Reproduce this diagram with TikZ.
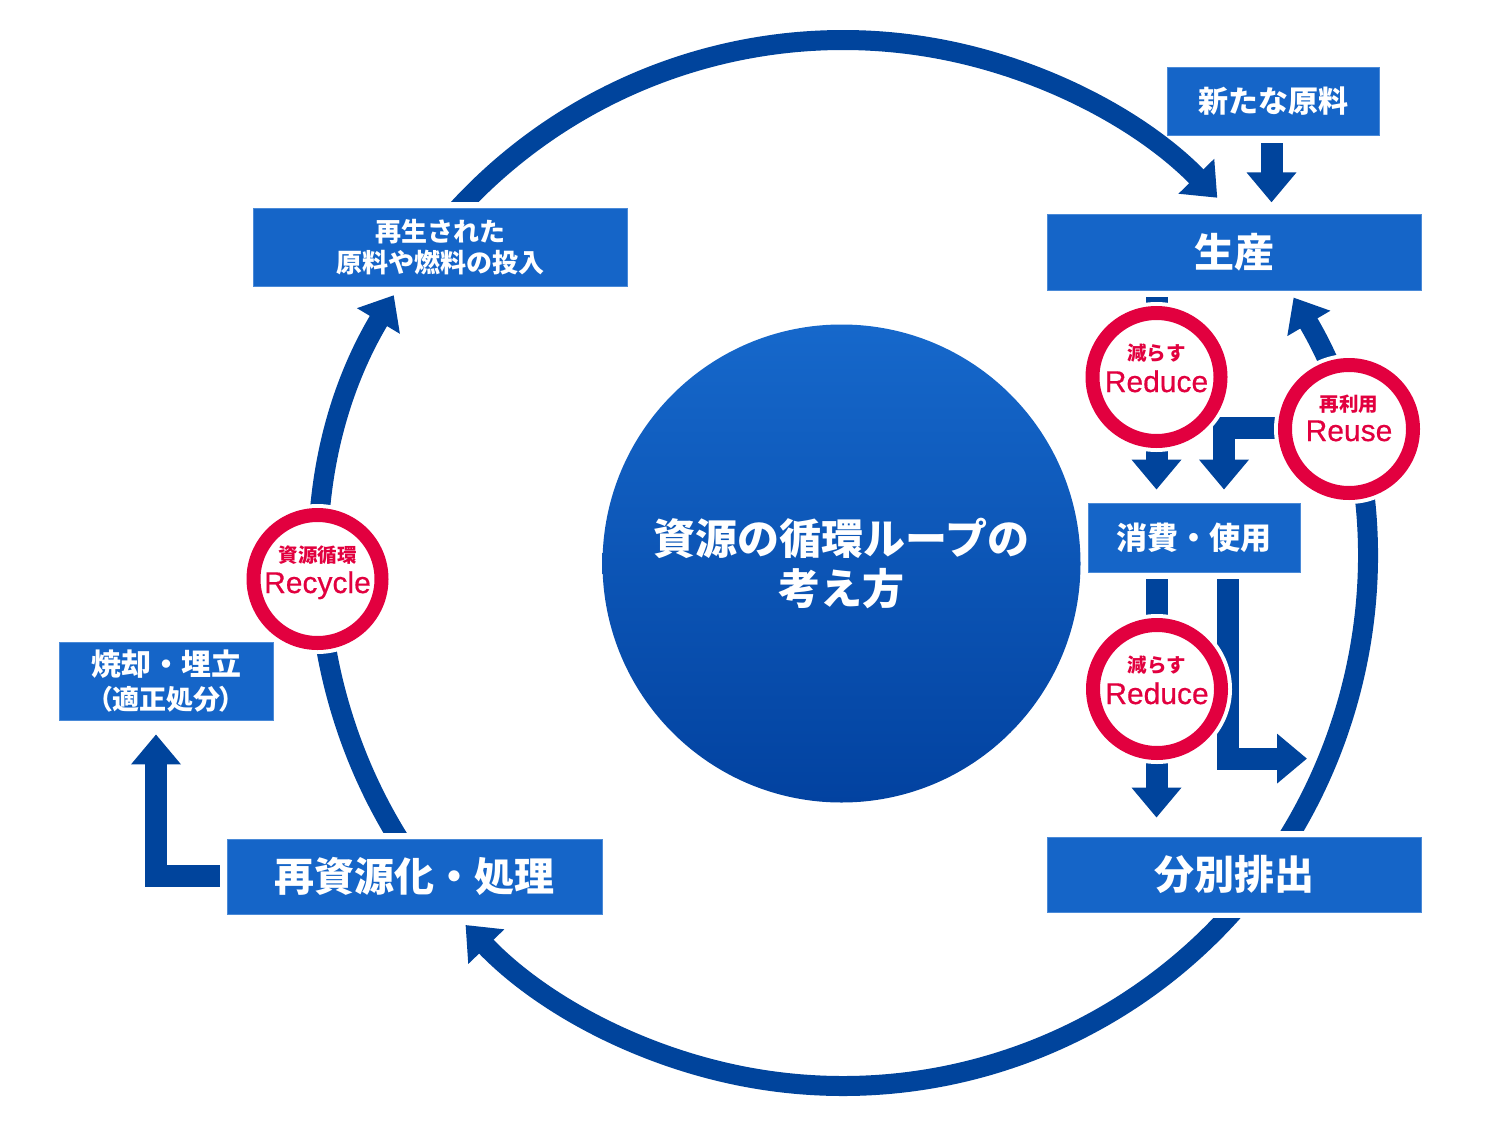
\documentclass[tikz,border=0pt]{standalone}
\usepackage{fontspec}
\setmainfont{Noto Sans CJK JP}
\newfontfamily\lat{Liberation Sans}[FakeBold=0.5]
\usetikzlibrary{arrows.meta,calc}
\definecolor{boxblue}{HTML}{1565C8}
\definecolor{boxedge}{HTML}{4A8AD8}
\definecolor{arrowblue}{HTML}{00449C}
\definecolor{ringred}{HTML}{E2003F}
\definecolor{circtop}{HTML}{1668CB}
\definecolor{circbot}{HTML}{0242A0}
\pgfdeclarelayer{bg}
\pgfdeclarelayer{paper}
\pgfsetlayers{paper,bg,main}
\begin{document}
\begin{tikzpicture}[x=1pt,y=-1pt,
  box/.style={fill=boxblue, draw=boxedge, line width=0.8pt, text=white, inner sep=0pt, align=center},
  loopline/.style={draw=arrowblue, line width=20pt},
  loopar/.style={loopline, -{Triangle[width=48pt,length=30pt]}},
  flow/.style={draw=arrowblue, line width=22pt, line join=miter, -{Triangle[width=48pt,length=30pt]}},
  ring/.style={circle, draw=ringred, line width=14pt, fill=white, minimum size=128pt, inner sep=0pt},
  halo/.style={circle, fill=white, minimum size=150pt, inner sep=0pt},
  smalllab/.style={text=ringred, font=\bfseries\fontsize{19.5}{22}\selectfont, inner sep=0pt},
  biglab/.style={text=ringred, font=\lat\fontsize{30}{34}\selectfont, inner sep=0pt, anchor=base}
]
\useasboundingbox (0,0) rectangle (1500,1148);
\begin{pgfonlayer}{paper}
\fill[white] (0,0) rectangle (1500,1148);
\end{pgfonlayer}

% boxes
\node[box, minimum width=212pt, minimum height=68pt, font=\bfseries\fontsize{30}{36}\selectfont] (new) at (1273,101) {新たな原料};
\node[box, minimum width=374pt, minimum height=76pt, font=\bfseries\fontsize{40}{48}\selectfont] (prod) at (1234,252) {生産};
\node[box, minimum width=374pt, minimum height=78pt, font=\bfseries\fontsize{26}{31}\selectfont] (rin) at (440,247) {再生された\\原料や燃料の投入};
\node[box, minimum width=212pt, minimum height=69pt, font=\bfseries\fontsize{31}{37}\selectfont] (cons) at (1194,537.5) {消費・使用};
\node[box, minimum width=374pt, minimum height=75pt, font=\bfseries\fontsize{40}{48}\selectfont] (sep) at (1234,874.5) {分別排出};
\node[box, minimum width=375pt, minimum height=75pt, font=\bfseries\fontsize{40}{48}\selectfont] (proc) at (414.5,876.5) {再資源化・処理};
\node[box, minimum width=214pt, minimum height=78pt, font=\bfseries\fontsize{30}{34}\selectfont] (burn) at (166,681) {焼却・埋立\\{\fontsize{27}{34}\selectfont\addfontfeatures{RawFeature=+palt}（適正処分）}};

% central circle
\node[circle, minimum size=478pt, inner sep=0pt, top color=circtop, bottom color=circbot, text=white, align=center, font=\bfseries\fontsize{42}{50}\selectfont] (core) at (841.5,563.5) {資源の循環ループの\\考え方};

% loop
\coordinate (O) at (843,563);
\begin{pgfonlayer}{bg}
\draw[loopar] ($(O)+(-138.5:523)$) arc[start angle=-138.5, end angle=-44.3, radius=523];
\draw[loopar] ($(O)+(32.5:523)$) arc[start angle=32.5, end angle=-30.5, radius=523];
\draw[loopar] ($(O)+(41:523)$) arc[start angle=41, end angle=136.2, radius=523];
\draw[loopar] ($(O)+(147.5:523)$) arc[start angle=147.5, end angle=210.8, radius=523];
\foreach \b in {rin,prod,sep,proc}
  \fill[white] ($(\b.south west)+(-6,6)$) rectangle ($(\b.north east)+(6,-6)$);
\end{pgfonlayer}

% red circle positions
\coordinate (red1) at (1156.5,377);
\coordinate (red2) at (1157,689);
\coordinate (reuse) at (1349,429);
\coordinate (recy) at (317.5,579);

% flow arrows
\draw[flow] ($(new.south)+(-1.5,8)$) -- ++(0,59);
\draw[flow] ($(prod.south)+(-77.5,7)$) -- ($(cons.north)+(-37.5,-13)$);
\draw[flow] ($(reuse)+(-60,-1)$) -| ($(cons.north)+(30,-13)$);
\draw[flow] ($(cons.south)+(-37.5,7)$) -- ($(sep.north)+(-77.5,-19)$);
\draw[flow] ($(cons.south)+(33.5,7)$) |- ($(sep.north)+(73,-78)$);
\draw[flow] ($(proc.west)+(-7,-0.5)$) -| ($(burn.south)+(-10,14)$);

% red circles
\foreach \c in {red1,red2,reuse,recy}{
  \node[halo] at (\c) {};
  \node[ring] (\c-ring) at (\c) {};
}
\node[smalllab] (l1a) at ($(red1)+(0,-24)$) {減らす};
\node[biglab] (l1b) at ($(red1)+(0,15)$) {Reduce};
\node[smalllab] (l2a) at ($(red2)+(0,-24)$) {減らす};
\node[biglab] (l2b) at ($(red2)+(0,15)$) {Reduce};
\node[smalllab] (l3a) at ($(reuse)+(0,-25)$) {再利用};
\node[biglab] (l3b) at ($(reuse)+(0,12)$) {Reuse};
\node[smalllab] (l4a) at ($(recy)+(0,-24)$) {資源循環};
\node[biglab] (l4b) at ($(recy)+(0,14)$) {Recycle};
\end{tikzpicture}
\end{document}
